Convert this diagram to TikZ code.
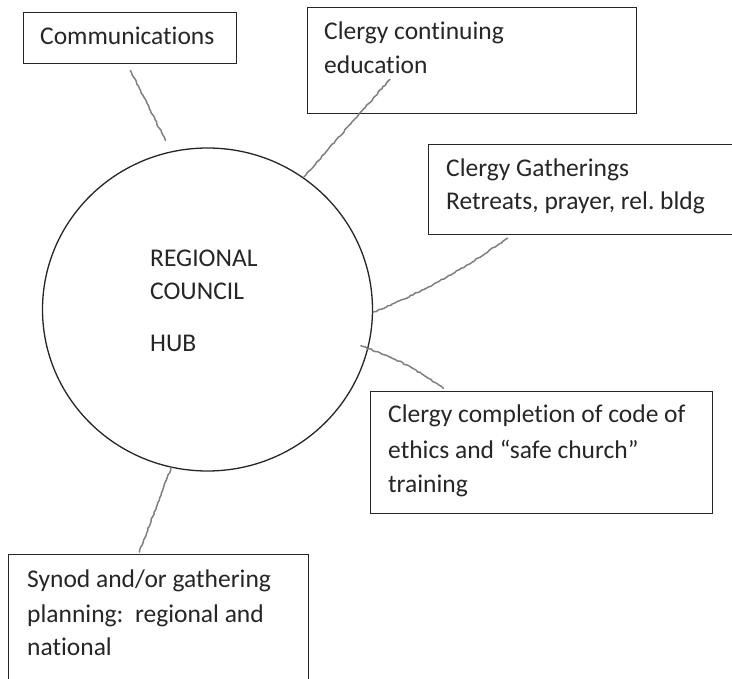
\documentclass[tikz,border=0pt]{standalone}
\usepackage{fontspec}
\setmainfont{Carlito}[Ligatures={NoCommon,NoDiscretionary,NoContextual}]
\usetikzlibrary{shapes.geometric,decorations.pathmorphing,calc}
\begin{document}
\frenchspacing
\pgfmathsetseed{7}
\begin{tikzpicture}[x=1pt,y=-1pt,
  box/.style={draw=black!85, line width=1.3pt, inner sep=0, anchor=north west},
  lbl/.style={anchor=base west, inner sep=0, font=\fontsize{25.5}{34.5}\selectfont, text=black!85},
  link/.style={draw=black!50, line width=1.5pt, line cap=round, decorate,
    decoration={random steps, segment length=2.5pt, amplitude=0.6pt}},
]
\clip (0,0) rectangle (732,679);
\fill[white] (0,0) rectangle (732,679);

% boxes
\node[box, minimum width=213pt, minimum height=51pt] (comm) at (23,12) {};
\node[box, minimum width=329pt, minimum height=106pt] (ced) at (307,7) {};
\node[box, minimum width=320pt, minimum height=90pt] (gath) at (428,144) {};
\node[box, minimum width=342pt, minimum height=122pt] (comp) at (370,391) {};
\node[box, minimum width=300pt, minimum height=140pt] (syn) at (8,554) {};
\node[draw=black!85, line width=1.3pt, ellipse, minimum width=330pt, minimum height=323pt, inner sep=0] (hub) at (207.5,309.5) {};

% texts
\node[lbl] (t1) at (40,45) {Communications};
\node[lbl] (t2a) at (324,40) {Clergy continuing};
\node[lbl] (t2b) at (324,74) {education};
\node[lbl] (t3a) at (446,177) {Clergy Gatherings};
\node[lbl] (t3b) at (446,210) {Retreats, prayer, rel. bldg};
\node[lbl] (t4a) at (388,423) {Clergy completion of code of};
\node[lbl] (t4b) at (388,458) {ethics and “safe church”};
\node[lbl] (t4c) at (388,493) {training};
\node[lbl] (t5a) at (27,587) {Synod and/or gathering};
\node[lbl] (t5b) at (27,622) {planning:\ \ regional and};
\node[lbl] (t5c) at (27,655) {national};
\node[lbl] (h1) at (150,267) {REGIONAL};
\node[lbl] (h2) at (150,300) {COUNCIL};
\node[lbl] (h3) at (150,352) {HUB};

% connector anchor points
\coordinate (c1s) at ([xshift=-3pt]comm.south);
\coordinate (c2s) at ([xshift=83pt,yshift=35pt]ced.south west);
\coordinate (c3s) at ([xshift=-76pt]gath.south);
\coordinate (c4e) at ([xshift=-93pt]comp.north);
\coordinate (c5e) at ([xshift=-20pt]syn.north);

% connectors
\draw[link] ($(c1s)!7pt!(hub.103)$) -- ($(hub.103)!12pt!(c1s)$);
\draw[link] (c2s) -- (hub.54);
\draw[link] ($(c3s)!6pt!(hub.-1)$) to[bend left=6] (hub.-1);
\draw[link] ($(hub.-14)!-8pt!(c4e)$) to[bend left=8] ($(c4e)!6pt!(hub.-14)$);
\draw[link] (hub.257) -- ($(c5e)!2pt!(hub.257)$);
\end{tikzpicture}
\end{document}
